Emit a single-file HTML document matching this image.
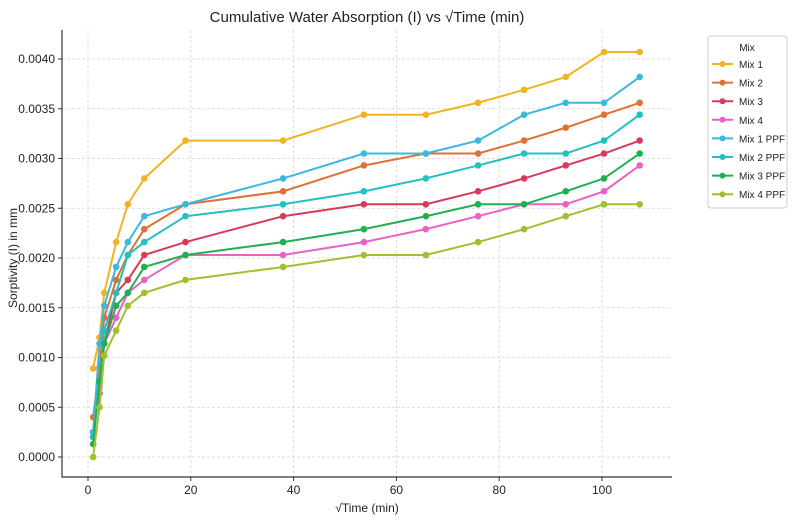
<!DOCTYPE html>
<html><head><meta charset="utf-8"><style>
body{margin:0;background:#fff;font-family:"Liberation Sans",sans-serif;}
svg text{font-family:"Liberation Sans",sans-serif;}
</style></head><body>
<svg id="chart" width="793" height="525">
<text x="367" y="22" text-anchor="middle" font-size="15" fill="#222">Cumulative Water Absorption (I) vs √Time (min)</text>
<g id="grid"></g><g id="axes"></g><g id="series"></g>
<text x="367" y="512" text-anchor="middle" font-size="12" fill="#222">√Time (min)</text>
<text transform="translate(17,258) rotate(-90)" text-anchor="middle" font-size="12" fill="#222">Sorptivity (I) in mm</text>
<g id="legend"></g>
</svg>
<script>
const xVals=[1,2.24,3.16,5.48,7.75,10.95,18.97,37.95,53.67,65.73,75.89,84.85,92.95,100.4,107.33];
const seriesNames=["Mix 1","Mix 2","Mix 3","Mix 4","Mix 1 PPF","Mix 2 PPF","Mix 3 PPF","Mix 4 PPF"];
const mix1=[0.00089,0.0012,0.00165,0.00216,0.00254,0.0028,0.00318,0.00318,0.00344,0.00344,0.00356,0.00369,0.00382,0.00407,0.00407];
const mix2=[0.0004,0.0009,0.0014,0.00178,0.00203,0.00229,0.00254,0.00267,0.00293,0.00305,0.00305,0.00318,0.00331,0.00344,0.00356];
const mix3=[0.00025,0.00064,0.00114,0.00165,0.00178,0.00203,0.00216,0.00242,0.00254,0.00254,0.00267,0.0028,0.00293,0.00305,0.00318];
const mix4=[0.0002,0.0007,0.00114,0.0014,0.00165,0.00178,0.00203,0.00203,0.00216,0.00229,0.00242,0.00254,0.00254,0.00267,0.00293];
const mix1ppf=[0.00025,0.00114,0.00152,0.00191,0.00216,0.00242,0.00254,0.0028,0.00305,0.00305,0.00318,0.00344,0.00356,0.00356,0.00382];
const mix2ppf=[0.0002,0.00076,0.00127,0.00165,0.00203,0.00216,0.00242,0.00254,0.00267,0.0028,0.00293,0.00305,0.00305,0.00318,0.00344];
const mix3ppf=[0.00013,0.00076,0.00114,0.00152,0.00165,0.00191,0.00203,0.00216,0.00229,0.00242,0.00254,0.00254,0.00267,0.0028,0.00305];
const mix4ppf=[0,0.0005,0.00102,0.00127,0.00152,0.00165,0.00178,0.00191,0.00203,0.00203,0.00216,0.00229,0.00242,0.00254,0.00254];
const xTicks=[0,20,40,60,80,100];
const yTicks=[0,0.0005,0.001,0.0015,0.002,0.0025,0.003,0.0035,0.004];
const allSeries=[mix1,mix2,mix3,mix4,mix1ppf,mix2ppf,mix3ppf,mix4ppf];
const colors=["#f0b323","#e07035","#d63c5a","#e863c4","#3cb8e0","#22c0c0","#1fb050","#a0c030"];
const NS="http://www.w3.org/2000/svg";
const L=62,R=672,T=30,B=477;
const xs=v=>88+v*5.14;
const ys=v=>457-v*99500;
function mk(tag,attrs,parent){const e=document.createElementNS(NS,tag);for(const k in attrs)e.setAttribute(k,attrs[k]);parent.appendChild(e);return e;}
const grid=document.getElementById('grid'),axes=document.getElementById('axes'),ser=document.getElementById('series'),leg=document.getElementById('legend');
xTicks.forEach(t=>{const x=xs(t);
 const g=mk('line',{x1:x,x2:x,y1:T,y2:B,stroke:'#d4d4d4','stroke-dasharray':'3,2','stroke-width':0.8},grid);
 
 mk('line',{x1:x,x2:x,y1:B,y2:B+4,stroke:'#333'},axes);
 const tx=mk('text',{x:x,y:B+17,'text-anchor':'middle','font-size':12,fill:'#222'},axes);tx.textContent=t;
 });
yTicks.forEach(t=>{const y=ys(t);
 const g=mk('line',{x1:L,x2:R,y1:y,y2:y,stroke:'#d4d4d4','stroke-dasharray':'3,2','stroke-width':0.8},grid);
 
 mk('line',{x1:L-4,x2:L,y1:y,y2:y,stroke:'#333'},axes);
 const tx=mk('text',{x:L-7,y:y+4,'text-anchor':'end','font-size':12,fill:'#222'},axes);tx.textContent=t.toFixed(4);
 });
const ax=mk('path',{d:`M${L},${T}V${B}H${R}`,fill:'none',stroke:'#333','stroke-width':1.2},axes);

allSeries.forEach((s,i)=>{
 const g=mk('g',{},ser);
 
 
 mk('polyline',{points:s.map((v,j)=>xs(xVals[j])+','+ys(v)).join(' '),fill:'none',stroke:colors[i],'stroke-width':2},g);
 s.forEach((v,j)=>{const c=mk('circle',{cx:xs(xVals[j]),cy:ys(v),r:3.3,fill:colors[i]},g);
  });
});
const box=mk('rect',{x:708,y:36,width:79,height:172,rx:3,fill:'#fff',stroke:'#ccc'},leg);

const lt=mk('text',{x:747,y:51,'text-anchor':'middle','font-size':10,fill:'#222'},leg);lt.textContent='Mix';

seriesNames.forEach((n,i)=>{const y=64+i*18.6;
 const g=mk('g',{},leg);
 
 mk('line',{x1:712,x2:733,y1:y,y2:y,stroke:colors[i],'stroke-width':2},g);
 mk('circle',{cx:722.5,cy:y,r:3,fill:colors[i]},g);
 const t=mk('text',{x:739,y:y+4,'font-size':10,fill:'#222'},g);t.textContent=n;});
</script>
</body></html>
